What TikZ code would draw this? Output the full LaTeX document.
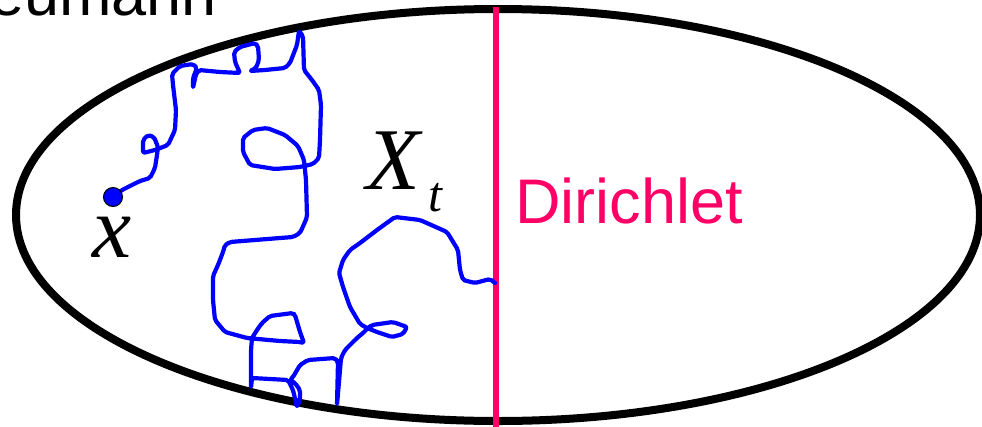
\documentclass[tikz,border=0pt]{standalone}
\usepackage{fontspec}
\setmainfont{Liberation Serif}
\newfontfamily\sansfam{Liberation Sans}
\definecolor{walkblue}{RGB}{0,0,255}
\definecolor{dirpink}{RGB}{255,0,102}
\begin{document}
\begin{tikzpicture}[x=1pt,y=-1pt,
  walkline/.style={draw=walkblue,line width=4.2pt,line join=round,line cap=round,rounded corners=2pt},
  domainline/.style={draw=black,line width=8pt},
  bdryline/.style={draw=dirpink,line width=6pt},
  startdot/.style={circle,fill=walkblue,draw=black,line width=1pt,minimum size=19pt,inner sep=0pt},
  lbl/.style={inner sep=0pt}]
\useasboundingbox (0,0) rectangle (982,426);
\begin{scope}
\clip (0,0) rectangle (982,426);
% domain
\draw[domainline] (498,215) ellipse [x radius=482pt, y radius=206pt];
% Dirichlet boundary line
\coordinate (dtop) at (496,7);
\coordinate (dbot) at (496,430);
\draw[bdryline] (dtop) -- (dbot);
% labels
\node[lbl,anchor=base east] (neu) at (217,15) {\sansfam\fontsize{63}{63}\selectfont Neumann};
\node[lbl,anchor=base west,text=dirpink] (dir) at (515,223) {\sansfam\fontsize{63}{63}\selectfont Dirichlet};
\node[lbl,anchor=base west] (xl) at (92,257) {\fontsize{88}{88}\selectfont\itshape x};
\node[lbl,anchor=base west] (Xt) at (366,189) {\fontsize{88}{88}\selectfont\itshape X\hspace{9pt}\raisebox{-22pt}{\fontsize{50}{50}\selectfont t}};
% start point
\coordinate (s) at (113,197);
\coordinate (hit) at (495,283);
% Brownian path
\draw[walkline] (s) -- (122,190) -- (140,181) -- (150,178) -- (155,168) -- (157,155)
 -- (158,147) -- (154,137) -- (148,135) -- (143,140) -- (143,153) -- (155,150)
 -- (168,145) -- (175,130) -- (176,110) -- (173,85) -- (172,74) -- (180,66)
 -- (193,64) -- (197,68) -- (193,78) -- (193,88) -- (196,74) -- (199,70)
 -- (220,72) -- (240,73) -- (235,62) -- (234,52) -- (240,47) -- (255,43)
 -- (258,46) -- (259,60) -- (256,68) -- (250,71) -- (265,70) -- (285,68)
 -- (290,63) -- (297,45) -- (299,31) -- (303,36) -- (304,70) -- (312,80)
 -- (319,90) -- (321,105) -- (320,140) -- (319,158) -- (313,164) -- (300,167)
 -- (275,169) -- (250,165) -- (243,152) -- (243,138) -- (253,130) -- (267,128)
 -- (285,135) -- (298,146) -- (304,160) -- (306,180) -- (307,217) -- (305,222)
 -- (300,233) -- (293,237) -- (280,238) -- (230,242) -- (225,245) -- (223,252)
 -- (218,265) -- (213,276) -- (213,300) -- (215,320) -- (225,332) -- (247,338)
 -- (280,341) -- (300,342) -- (304,343) -- (300,332) -- (295,315) -- (293,313)
 -- (270,316) -- (262,323) -- (257,330) -- (252,338) -- (251,350) -- (251,388)
 -- (252,378) -- (288,380) -- (293,390) -- (297,407) -- (300,400) -- (300,390)
 -- (295,383) -- (290,380) -- (293,377) -- (300,365) -- (308,360) -- (335,358)
 -- (338,362) -- (337,405) -- (340,370) -- (341,358) -- (345,350) -- (352,343)
 -- (357,338) -- (363,333) -- (368,328) -- (372,325) -- (393,322) -- (407,327)
 -- (403,334) -- (392,337) -- (377,332) -- (367,328) -- (360,324) -- (350,307)
 -- (343,287) -- (339,273) -- (343,260) -- (350,250) -- (360,243) -- (377,230)
 -- (395,217) -- (420,220) -- (447,232) -- (458,250) -- (460,270) -- (463,280)
 -- (475,283) -- (490,279) -- (hit);
\node[startdot] (x0) at (s) {};
\end{scope}
\end{tikzpicture}
\end{document}
